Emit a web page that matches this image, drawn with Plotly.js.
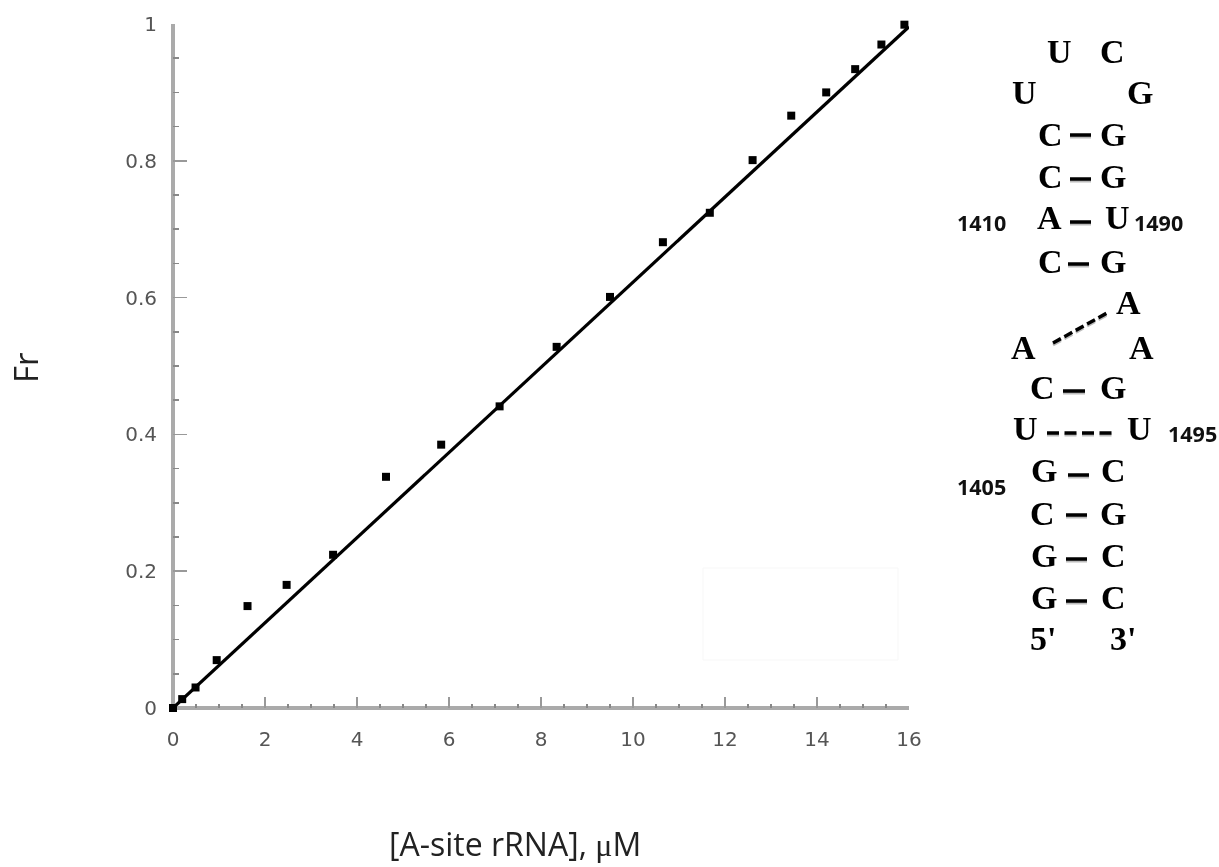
<!DOCTYPE html>
<html>
<head>
<meta charset="utf-8">
<script src="https://cdn.plot.ly/plotly-3.0.1.min.js"></script>
<style>html,body{margin:0;padding:0;background:#fff;overflow:hidden}#chart{width:1219px;height:867px}
.cartesianlayer{filter:blur(0.6px)}</style>
</head>
<body>
<div id="chart"></div>
<script>
// Measured data
var concentration = [0, 0.2, 0.49, 0.95, 1.62, 2.47, 3.48, 4.63, 5.83, 7.1, 8.34, 9.5, 10.65, 11.67, 12.6, 13.44, 14.2, 14.83, 15.4, 15.9];
var fractionBound = [0, 0.013, 0.03, 0.07, 0.149, 0.18, 0.224, 0.338, 0.385, 0.441, 0.528, 0.601, 0.681, 0.724, 0.801, 0.866, 0.9, 0.934, 0.97, 0.999];
var fitX = [0, 16];
var fitY = [0, 0.996];
var xTickValues = [0, 2, 4, 6, 8, 10, 12, 14, 16];
var yTickValues = [0, 0.2, 0.4, 0.6, 0.8, 1];
var yTickLabels = ['0', '0.2', '0.4', '0.6', '0.8', '1'];
var xAxisTitle = '[A-site rRNA], <span style="font-family:Liberation Serif">μ</span>M';
var yAxisTitle = 'Fr';

// Rows of the A-site secondary structure: [letter, centre x px, centre y px]
var baseLetters = [
  ['U',1059,52],['C',1112,52],['U',1024,93],['G',1140,93],
  ['C',1050,135],['G',1113,135],['C',1050,177],['G',1113,177],
  ['A',1049,219],['U',1117,219],['C',1050,262],['G',1113,262],
  ['A',1128,303],['A',1023,348],['A',1141,348],
  ['C',1042,388],['G',1113,388],['U',1025,430],['U',1139,430],
  ['G',1044,472],['C',1113,472],['C',1042,514],['G',1113,514],
  ['G',1044,556],['C',1113,556],['G',1044,598],['C',1113,598],
  ["5'",1043,639],["3'",1123,639]
];
var positionLabels = [['1410',982,222],['1490',1158,222],['1495',1192,433],['1405',982,486]];
// Base-pair bonds: [x0, y0, x1, y1, dash pattern]
var bonds = [
  [1070,135,1091,135,'solid'],[1070,179,1091,179,'solid'],[1070,222,1091,222,'solid'],[1068,264,1089,264,'solid'],
  [1053,343,1107,313,'9px 4px'],[1063,391,1085,391,'solid'],[1047,433,1112,433,'12px 5.5px'],
  [1068,475,1089,475,'solid'],[1066,515,1087,515,'solid'],[1066,559,1087,559,'solid'],[1066,601,1087,601,'solid']
];

var PLOT = {l:173, r:909, t:24, b:708};
function px(x){return (x-PLOT.l)/(PLOT.r-PLOT.l);}
function py(y){return (PLOT.b-y)/(PLOT.b-PLOT.t);}

var annotations = [];
baseLetters.forEach(function(b){
  annotations.push({text:b[0],xref:'paper',yref:'paper',x:px(b[1]),y:py(b[2]-1),xanchor:'center',yanchor:'middle',showarrow:false,
    font:{family:'Liberation Serif',size:34,color:'#000',weight:700}});
});
positionLabels.forEach(function(b){
  annotations.push({text:b[0],xref:'paper',yref:'paper',x:px(b[1]),y:py(b[2]),xanchor:'center',yanchor:'middle',showarrow:false,
    font:{family:'Open Sans',size:21.5,color:'#111',weight:700}});
});
annotations.push({text:xAxisTitle,xref:'paper',yref:'paper',x:px(515),y:py(844),xanchor:'center',yanchor:'middle',showarrow:false,
  font:{family:'Open Sans',size:32,color:'#222'}});
annotations.push({text:yAxisTitle,xref:'paper',yref:'paper',x:px(25),y:py(368),xanchor:'center',yanchor:'middle',showarrow:false,textangle:-90,
  font:{family:'Open Sans',size:33,color:'#222'}});

var shapes = [];
bonds.forEach(function(b){
  shapes.push({type:'line',xref:'paper',yref:'paper',x0:px(b[0]),y0:py(b[1]+2),x1:px(b[2]),y1:py(b[3]+2),
    line:{color:'#bbb',width:3,dash:b[4]}});
});
bonds.forEach(function(b){
  shapes.push({type:'line',xref:'paper',yref:'paper',x0:px(b[0]),y0:py(b[1]),x1:px(b[2]),y1:py(b[3]),
    line:{color:'#000',width:3.5,dash:b[4]}});
});
// very faint rounded box left in the plot area
shapes.push({type:'rect',xref:'paper',yref:'paper',x0:px(703),y0:py(568),x1:px(898),y1:py(660),layer:'below',
  line:{color:'#f7f7f7',width:1}});

var traces = [
  {type:'scatter',mode:'lines',x:fitX,y:fitY,line:{color:'#000',width:3.2},cliponaxis:false,hoverinfo:'skip'},
  {type:'scatter',mode:'markers',x:concentration,y:fractionBound,marker:{symbol:'square',size:8,color:'#000'},cliponaxis:false}
];

var layout = {
  width:1219,height:867,showlegend:false,hovermode:false,
  paper_bgcolor:'#fff',plot_bgcolor:'#fff',
  margin:{l:PLOT.l,r:1219-PLOT.r,t:PLOT.t,b:867-PLOT.b,pad:0},
  font:{family:'DejaVu Sans',color:'#555'},
  xaxis:{range:[0,16],tickvals:xTickValues,ticks:'inside',ticklen:11,tickwidth:1.5,tickcolor:'#999',
    showgrid:false,showline:false,zeroline:true,zerolinecolor:'#aaa',zerolinewidth:4.5,
    tickfont:{size:20,color:'#555',family:'DejaVu Sans'},ticklabelstandoff:17,
    minor:{dtick:0.5,tick0:0,ticks:'inside',ticklen:4,tickwidth:1.5,tickcolor:'#888',showgrid:false}},
  yaxis:{range:[0,1],tickvals:yTickValues,ticktext:yTickLabels,ticks:'inside',ticklen:14,tickwidth:1.5,tickcolor:'#999',
    showgrid:false,showline:false,zeroline:true,zerolinecolor:'#aaa',zerolinewidth:4,
    tickfont:{size:20,color:'#555',family:'DejaVu Sans'},ticklabelstandoff:15,
    minor:{dtick:0.05,tick0:0,ticks:'inside',ticklen:6,tickwidth:1.5,tickcolor:'#888',showgrid:false}},
  annotations:annotations,shapes:shapes
};
Plotly.newPlot('chart',traces,layout,{displayModeBar:false,staticPlot:true});
</script>
</body>
</html>
